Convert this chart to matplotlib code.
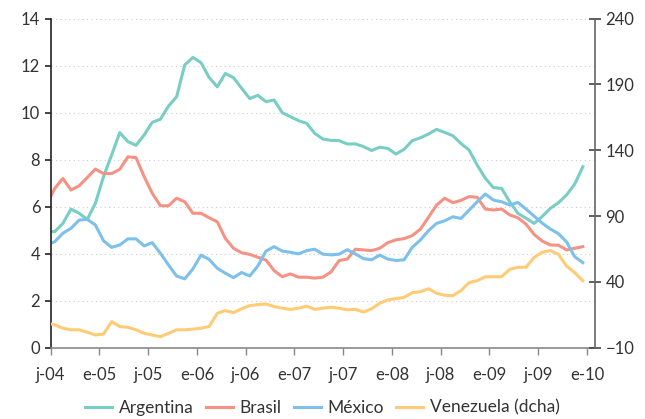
import matplotlib
matplotlib.use("Agg")
import matplotlib.pyplot as plt
import numpy as np

plt.rcParams['font.family'] = ['Lato', 'DejaVu Sans']

# monthly data, first value is June 2004 (clipped at the axis), last is Dec 2009
argentina = [4.94, 4.94, 5.29, 5.90, 5.72, 5.46, 6.14, 7.28, 8.20, 9.15, 8.77,
             8.61, 9.05, 9.59, 9.72, 10.28, 10.68, 12.03, 12.35, 12.13, 11.5, 11.1,
             11.67, 11.49, 11.04, 10.6, 10.74, 10.47, 10.54, 10.0, 9.83, 9.66, 9.55,
             9.12, 8.88, 8.82, 8.81, 8.67, 8.67, 8.56, 8.39, 8.53, 8.48, 8.24, 8.44,
             8.81, 8.93, 9.09, 9.29, 9.16, 9.02, 8.69, 8.41, 7.77, 7.21, 6.81, 6.78,
             6.21, 5.72, 5.51, 5.29, 5.58, 5.93, 6.17, 6.5, 6.96, 7.70]
brasil = [6.08, 6.78, 7.2, 6.71, 6.89, 7.24, 7.6, 7.41, 7.41, 7.59, 8.12, 8.09,
          7.28, 6.57, 6.04, 6.04, 6.36, 6.21, 5.72, 5.72, 5.53, 5.36, 4.65, 4.23,
          4.04, 3.97, 3.85, 3.73, 3.28, 3.02, 3.14, 3.0, 3.0, 2.96, 3.0, 3.22, 3.71,
          3.77, 4.19, 4.16, 4.13, 4.23, 4.47, 4.59, 4.64, 4.77, 5.04, 5.55, 6.07,
          6.36, 6.17, 6.27, 6.43, 6.4, 5.9, 5.86, 5.9, 5.65, 5.53, 5.26, 4.82, 4.54,
          4.37, 4.36, 4.16, 4.23, 4.3]
mexico = [4.37, 4.51, 4.87, 5.08, 5.43, 5.46, 5.22, 4.55, 4.27, 4.37, 4.63, 4.63,
          4.33, 4.47, 4.02, 3.52, 3.05, 2.93, 3.35, 3.94, 3.76, 3.38, 3.17, 2.98,
          3.2, 3.05, 3.48, 4.11, 4.3, 4.11, 4.06, 3.99, 4.13, 4.19, 3.98, 3.95, 3.98,
          4.17, 3.99, 3.79, 3.74, 3.94, 3.77, 3.71, 3.74, 4.27, 4.58, 4.98, 5.29,
          5.4, 5.57, 5.5, 5.85, 6.21, 6.54, 6.28, 6.21, 6.07, 6.18, 5.9, 5.6, 5.3,
          5.05, 4.85, 4.5, 3.87, 3.62]
venezuela = [8.8, 7.3, 4.8, 3.6, 3.6, 1.8, -0.4, 0.4, 9.8, 6.1, 5.5, 3.6, 0.9,
             -0.4, -1.6, 0.9, 3.6, 3.6, 4.1, 4.8, 6.1, 16.1, 18.2, 16.6, 19.6, 22.0,
             22.7, 23.2, 21.3, 20.0, 19.1, 20.0, 21.6, 19.1, 20.0, 20.7, 20.0, 18.8,
             19.1, 17.1, 19.6, 23.8, 26.3, 27.3, 28.2, 31.8, 32.5, 34.8, 31.3, 29.8,
             29.5, 33.4, 39.5, 40.9, 43.9, 43.9, 43.9, 49.5, 51.1, 51.1, 58.6, 62.5,
             63.8, 60.9, 52.0, 47.0, 40.9]

tick_labels = ['j-04', 'e-05', 'j-05', 'e-06', 'j-06', 'e-07', 'j-07',
               'e-08', 'j-08', 'e-09', 'j-09', 'e-10']

# month centres, July 2004 sits at 0.5
x = np.arange(len(argentina)) - 0.5

c_arg = '#78CEC5'
c_bra = '#F59283'
c_mex = '#7DC0EB'
c_ven = '#FFCC75'
txt = '#333333'

fig = plt.figure(figsize=(6.45, 4.19), dpi=100)
ax = fig.add_axes([0.0786, 0.1702, 0.8439, 0.7852])
ax2 = ax.twinx()

lw = 2.2
l1, = ax.plot(x, argentina, color=c_arg, lw=lw, label='Argentina')
l2, = ax.plot(x, brasil, color=c_bra, lw=lw, label='Brasil')
l3, = ax.plot(x, mexico, color=c_mex, lw=lw, label='México')
l4, = ax2.plot(x, venezuela, color=c_ven, lw=lw, label='Venezuela (dcha)')

ax.set_xlim(0, 67)
ax.set_ylim(0, 14)
ax2.set_ylim(-10, 240)

ax.set_yticks(range(0, 15, 2))
ax2.set_yticks(range(-10, 241, 50))
ax.set_xticks(range(0, 67, 6))
ax.set_xticklabels(tick_labels)

for v in range(2, 15, 2):
    ax.axhline(v, color='#cccccc', lw=0.8, ls=(0, (1, 3)), zorder=0)

ax.spines['top'].set_visible(False)
ax2.spines['top'].set_visible(False)
ax2.spines['left'].set_visible(False)
ax.spines['right'].set_visible(False)
ax2.spines['bottom'].set_visible(False)
ax.spines['left'].set_color('#222222')
ax.spines['bottom'].set_color('#888888')
ax2.spines['right'].set_color('#666666')
for s in ['left', 'bottom']:
    ax.spines[s].set_linewidth(1.2)
ax2.spines['right'].set_linewidth(1.2)

ax.tick_params(axis='y', direction='out', length=4, width=1.2, color='#222222',
               labelsize=12, labelcolor=txt)
ax.tick_params(axis='x', direction='out', length=5, width=1, color='#888888',
               labelsize=12, labelcolor=txt, pad=9)
ax2.tick_params(axis='y', direction='inout', length=8, width=1.2, color='#444444',
                labelsize=12, labelcolor=txt)

fig.legend(handles=[l1, l2, l3, l4], loc='center', ncol=4, frameon=False,
           bbox_to_anchor=(0.5, 0.027), fontsize=12.5, handlelength=1.55,
           handletextpad=0.4, columnspacing=0.7, labelcolor=txt)

fig.savefig('out.png', dpi=100)
